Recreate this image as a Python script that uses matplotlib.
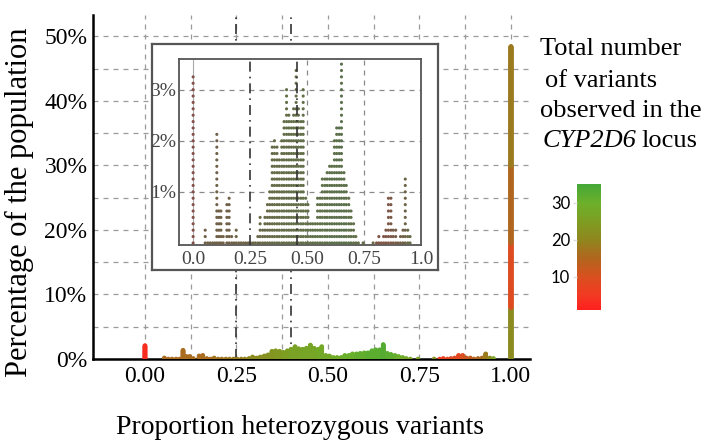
import numpy as np
import matplotlib
matplotlib.use("Agg")
import matplotlib.pyplot as plt
from matplotlib.colors import LinearSegmentedColormap, Normalize
from matplotlib.cm import ScalarMappable

plt.rcParams['font.family'] = ['Liberation Serif', 'DejaVu Serif']

# one column of stacked samples per proportion of heterozygous variants
het_prop = [
    0.000, 0.053, 0.064, 0.074, 0.085, 0.095, 0.104, 0.113, 0.122, 0.132,
    0.148, 0.158, 0.169, 0.179, 0.189, 0.200, 0.210, 0.221, 0.231, 0.242,
    0.252, 0.263, 0.273, 0.284,
    0.294, 0.305, 0.315, 0.326, 0.336, 0.347, 0.357, 0.368, 0.378, 0.389,
    0.399, 0.410, 0.420, 0.431, 0.441, 0.452, 0.462, 0.473, 0.483, 0.494,
    0.504, 0.515,
    0.525, 0.536, 0.546, 0.557, 0.567, 0.578, 0.588, 0.599, 0.609, 0.620,
    0.630, 0.641, 0.651, 0.662, 0.672, 0.683, 0.693, 0.704, 0.714, 0.725,
    0.746, 0.790, 0.805, 0.815, 0.826, 0.836, 0.846, 0.857, 0.868, 0.878,
    0.889, 0.899, 0.910, 0.921, 0.931, 0.942, 0.952,
]
n_samples = [
    27, 3, 1, 1, 1, 1, 18, 6, 6, 2,
    7, 8, 2, 1, 3, 1, 1, 1, 1, 1,
    1, 1, 1, 2,
    5, 3, 5, 7, 9, 16, 17, 16, 14, 17,
    20, 25, 21, 20, 22, 28, 22, 20, 25, 8,
    7, 4,
    4, 4, 8, 8, 11, 11, 12, 13, 13, 17,
    19, 19, 29, 12, 10, 8, 6, 4, 2, 1,
    1, 1, 1, 2, 1, 2, 3, 8, 8, 3,
    3, 1, 2, 3, 11, 3, 2,
]
n_variants = [
    3, 16, 16, 16, 16, 16, 16, 16, 16, 16,
    16, 16, 16, 16, 17, 17, 17, 17, 18, 18,
    18, 19, 19, 20,
    21, 21, 22, 22, 23, 23, 24, 24, 25, 25,
    26, 26, 26, 27, 27, 27, 27, 28, 28, 28,
    28, 29,
    29, 29, 30, 30, 30, 31, 31, 31, 32, 32,
    32, 32, 33, 32, 32, 31, 30, 29, 28, 27,
    26, 22, 6, 6, 8, 8, 9, 8, 10, 12,
    13, 14, 15, 16, 18, 21, 26,
]

# fully homozygous samples (proportion 1.00), stacked in blocks
hom_n_samples = [100, 125, 150, 231]
hom_n_variants = [21, 9, 15, 18]

MAIN_PCT = 0.08    # % of population per sample on the main axis
INSET_PCT = 0.125  # % per sample as labelled on the inset

W, H = 709, 447

cmap = LinearSegmentedColormap.from_list("rg", [
    (0.000, "#ff1f1f"), (0.118, "#f23a22"), (0.265, "#d8501f"),
    (0.412, "#b0661e"), (0.559, "#90861e"), (0.706, "#7e9e22"),
    (0.853, "#6cb02a"), (1.000, "#44a838")])
norm = Normalize(vmin=1, vmax=35)


def stack(xs, ns, vs):
    px, pk, pv = [], [], []
    for x, n, v in zip(xs, ns, vs):
        for k in range(n):
            px.append(x)
            pk.append(k)
            pv.append(v)
    return np.array(px), np.array(pk), np.array(pv)


col_x, col_k, col_v = stack(het_prop, n_samples, n_variants)

hom_k, hom_v = [], []
start = 0
for n, v in zip(hom_n_samples, hom_n_variants):
    hom_k += list(range(start, start + n))
    hom_v += [v] * n
    start += n
hom_x = np.ones(len(hom_k))

fig = plt.figure(figsize=(W / 100, H / 100), dpi=100)

# main axis
ax = fig.add_axes([93 / W, 1 - 359 / H, 437 / W, 344 / H])
ax.set_xlim(-0.142, 1.052)
ax.set_ylim(0, 53.3)
ax.set_xticks([0, 0.25, 0.5, 0.75, 1.0])
ax.set_xticklabels(["0.00", "0.25", "0.50", "0.75", "1.00"])
ax.set_xticks([0.125, 0.375, 0.625, 0.875], minor=True)
ax.set_yticks([0, 10, 20, 30, 40, 50])
ax.set_yticklabels(["0%", "10%", "20%", "30%", "40%", "50%"])
ax.set_yticks([5, 15, 25, 35, 45], minor=True)
ax.tick_params(which="both", length=0, labelsize=17)
ax.tick_params(axis="x", pad=5)
ax.tick_params(axis="y", pad=4)
ax.grid(which="both", color="#9a9a9a", linestyle=(0, (4, 4)), linewidth=0.9)
for s in ["top", "right"]:
    ax.spines[s].set_visible(False)
for s in ["left", "bottom"]:
    ax.spines[s].set_linewidth(1.8)
for xv in [0.25, 0.40]:
    ax.axvline(xv, color="#333333", linestyle=(0, (6, 3, 1, 3)), linewidth=1.2, zorder=2)

ax.scatter(col_x, col_k * MAIN_PCT, c=col_v, cmap=cmap, norm=norm, s=11,
           linewidths=0, zorder=3)
ax.scatter(hom_x, np.array(hom_k) * MAIN_PCT, c=hom_v, cmap=cmap, norm=norm,
           s=13, linewidths=0, zorder=3)

# inset frame
frame = fig.add_axes([152 / W, 1 - 270 / H, 286 / W, 226 / H])
frame.set_xticks([])
frame.set_yticks([])
frame.set_facecolor("white")
for s in frame.spines.values():
    s.set_color("#555555")
    s.set_linewidth(1.6)

ins = fig.add_axes([179 / W, 1 - 245 / H, 242 / W, 186 / H])
ins.set_xlim(-0.062, 1.0)
ins.set_ylim(-0.04, 3.6)
ins.set_xticks([0, 0.25, 0.5, 0.75, 1.0])
ins.set_xticklabels(["0.0", "0.25", "0.50", "0.75", "1.0"])
ins.set_yticks([1, 2, 3])
ins.set_yticklabels(["1%", "2%", "3%"])
ins.tick_params(length=0, labelsize=14, labelcolor="#444444")
ins.tick_params(axis="x", pad=4)
ins.tick_params(axis="y", pad=2)
for s in ins.spines.values():
    s.set_color("#555555")
    s.set_linewidth(1.3)
for yv in [1, 2, 3]:
    ins.axhline(yv, color="#8a8a8a", linestyle=(0, (4, 4)), linewidth=0.9, zorder=1)
for xv in [0.5, 0.75]:
    ins.axvline(xv, color="#8a8a8a", linestyle=(0, (4, 4)), linewidth=0.9, zorder=1)
ins.axvline(0, color="#aaaaaa", linewidth=0.8, zorder=1)
for xv in [0.25, 0.456]:
    ins.axvline(xv, color="#333333", linestyle=(0, (6, 3, 1, 3)), linewidth=1.2, zorder=4)

# inset dots look greyed: blend the colour with a dark grey
rgb = cmap(norm(col_v))[:, :3]
dot_col = 0.25 * rgb + 0.75 * np.array([0.36, 0.36, 0.33])
inside = col_x <= 1.0
ins.scatter(col_x[inside], col_k[inside] * INSET_PCT, c=dot_col[inside], s=5,
            linewidths=0, zorder=3)

# colour bar
cax = fig.add_axes([577 / W, 1 - 310 / H, 24 / W, 126 / H])
cb = fig.colorbar(ScalarMappable(norm=norm, cmap=cmap), cax=cax, ticks=[10, 20, 30])
cb.outline.set_visible(False)
cax.yaxis.set_ticks_position("left")
cax.tick_params(length=3, width=1, color="#dddddd", labelsize=12, pad=2)
for lab in cax.get_yticklabels():
    lab.set_fontfamily(["Lato", "DejaVu Sans"])

# labels
fig.text(19 / W, 1 - 202 / H, "Percentage of the population", rotation=90,
         ha="center", va="center", fontsize=22)
fig.text(300 / W, 1 - 428 / H, "Proportion heterozygous variants",
         ha="center", va="center", fontsize=20)
fig.text(540 / W, 1 - 55 / H, "Total number", fontsize=19, va="baseline")
fig.text(545 / W, 1 - 87 / H, "of variants", fontsize=19, va="baseline")
fig.text(540 / W, 1 - 117 / H, "observed in the", fontsize=19, va="baseline")
gene = fig.text(543 / W, 1 - 147 / H, "CYP2D6", fontsize=19, va="baseline",
                fontstyle="italic")
bb = gene.get_window_extent(renderer=fig.canvas.get_renderer())
fig.text((bb.x1 + 5) / W, 1 - 147 / H, "locus", fontsize=19, va="baseline")

fig.savefig("out.png", dpi=100)
